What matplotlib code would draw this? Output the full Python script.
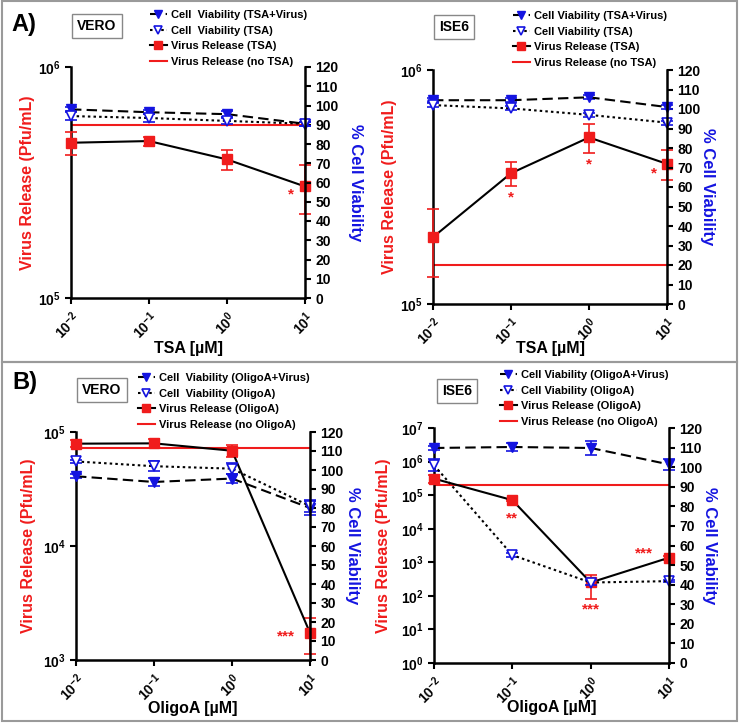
import matplotlib
matplotlib.use("Agg")
import matplotlib.pyplot as plt
from matplotlib.patches import Rectangle
from matplotlib.ticker import NullLocator

plt.rcParams["font.family"] = ["Liberation Sans", "DejaVu Sans"]
plt.rcParams["font.weight"] = "bold"
plt.rcParams["axes.labelweight"] = "bold"
plt.rcParams["mathtext.fontset"] = "custom"
plt.rcParams["mathtext.rm"] = "Liberation Sans:bold"
plt.rcParams["mathtext.it"] = "Liberation Sans:bold"
plt.rcParams["mathtext.bf"] = "Liberation Sans:bold"
plt.rcParams["mathtext.default"] = "bf"

RED = "#f01c1c"
BLUE = "#1414e0"

conc = [0.01, 0.1, 1, 10]
conc_labels = [r"$10^{-2}$", r"$10^{-1}$", r"$10^{0}$", r"$10^{1}$"]
viab_ticks = list(range(0, 121, 10))

# A) VERO, TSA
a_vero_vr = [4.7e5, 4.78e5, 3.98e5, 3.04e5]
a_vero_vr_err = [0.53e5, 0.22e5, 0.41e5, 0.74e5]
a_vero_ctrl = 5.6e5
a_vero_cv_vir = [98, 96.5, 95.5, 90.5]
a_vero_cv_vir_err = [1, 1, 1.5, 1]
a_vero_cv = [94.5, 93.5, 92, 90.5]
a_vero_cv_err = [2, 2, 1.5, 1]

# A) ISE6, TSA
a_ise_vr = [1.93e5, 3.62e5, 5.15e5, 3.97e5]
a_ise_vr_err = [0.62e5, 0.44e5, 0.75e5, 0.57e5]
a_ise_ctrl = 1.47e5
a_ise_cv_vir = [104.5, 104.5, 106, 101]
a_ise_cv_vir_err = [1, 1, 1, 1]
a_ise_cv = [102, 100.3, 97, 93]
a_ise_cv_err = [1, 1, 1, 1]

# B) VERO, OligoA
b_vero_vr = [7.9e4, 7.95e4, 6.85e4, 1.73e3]
b_vero_vr_err = [0.55e4, 0.75e4, 0.86e4, 0.6e3]
b_vero_ctrl = 7.2e4
b_vero_cv_vir = [96.7, 93.7, 95.5, 80]
b_vero_cv_vir_err = [1, 2, 2.5, 3.5]
b_vero_cv = [104.5, 102, 100.7, 81]
b_vero_cv_err = [1, 2.5, 3, 3]

# B) ISE6, OligoA
b_ise_vr = [3.1e5, 7.1e4, 2.5e2, 1.37e3]
b_ise_vr_err = [0.8e5, 0.5e4, 1.7e2, 0.2e3]
b_ise_ctrl = 2.0e5
b_ise_cv_vir = [109.8, 110.3, 109.8, 101.4]
b_ise_cv_vir_err = [1, 2, 3.4, 2.7]
b_ise_cv = [101, 55.1, 41.1, 41.8]
b_ise_cv_err = [3, 1, 1.5, 0.5]

W, H = 740, 724


def px(x, y):
    return x / W, 1 - y / H


def panel(fig, box, drug, vr, vr_err, ctrl, cv_vir, cv_vir_err, cv, cv_err,
          ylim, yticks, yticklabels, stars, leg_xy, lab_x, xlab_y, double_space):
    l, t, r, b = box
    ax = fig.add_axes([l / W, 1 - b / H, (r - l) / W, (b - t) / H])
    ax2 = ax.twinx()

    ax.set_xscale("log")
    ax.set_yscale("log")
    ax.set_xlim(conc[0], conc[-1])
    ax.set_ylim(*ylim)
    ax2.set_ylim(0, 120)

    ctrl_line = ax.axhline(ctrl, color=RED, lw=1.5, zorder=2)
    ax.errorbar(conc, vr, yerr=vr_err, fmt="none", ecolor=RED, elinewidth=1.2,
                capsize=4, capthick=1.2, clip_on=False, zorder=3)
    vr_line, = ax.plot(conc, vr, color="black", lw=1.5, marker="s", ms=7,
                       mfc=RED, mec=RED, clip_on=False, zorder=4)

    ax2.errorbar(conc, cv_vir, yerr=cv_vir_err, fmt="none", ecolor=BLUE,
                 elinewidth=1.2, capsize=4, capthick=1.2, clip_on=False)
    ax2.errorbar(conc, cv, yerr=cv_err, fmt="none", ecolor=BLUE,
                 elinewidth=1.2, capsize=4, capthick=1.2, clip_on=False)
    vir_line, = ax2.plot(conc, cv_vir, color="black", lw=1.5, ls=(0, (5, 2.5)),
                         marker="v", ms=6.5, mfc=BLUE, mec=BLUE, clip_on=False)
    cv_line, = ax2.plot(conc, cv, color="black", lw=1.5, ls=(0, (1.2, 1.5)),
                        marker="v", ms=6.5, mfc="white", mec=BLUE, mew=1.2,
                        clip_on=False)

    for sx, sy, s in stars:
        ax.text(sx, sy, s, color=RED, fontsize=11, ha="center", va="center")

    # axes styling
    for name in ["top", "right"]:
        ax.spines[name].set_visible(False)
    for name in ["top", "left", "bottom"]:
        ax2.spines[name].set_visible(False)
    ax.spines["left"].set_linewidth(1.8)
    ax.spines["bottom"].set_linewidth(1.8)
    ax2.spines["right"].set_linewidth(1.8)

    ax.set_xticks(conc)
    ax.set_xticklabels(conc_labels, rotation=45, ha="right", rotation_mode="anchor",
                       fontsize=10)
    ax.xaxis.set_minor_locator(NullLocator())
    ax.set_yticks(yticks)
    ax.set_yticklabels(yticklabels, fontsize=10)
    ax.yaxis.set_minor_locator(NullLocator())
    ax2.set_yticks(viab_ticks)
    ax.tick_params(direction="out", width=1.5, length=4)
    ax2.tick_params(direction="out", width=1.5, length=4, labelsize=10)

    ax.set_xlabel(f"{drug} [µM]", fontsize=11.5, va="center")
    ax.xaxis.set_label_coords(0.5, xlab_y)
    ax.set_ylabel("Virus Release (Pfu/mL)", color=RED, fontsize=11.5, va="center")
    ax.yaxis.set_label_coords(lab_x[0], 0.5)
    ax2.set_ylabel("% Cell Viability", color=BLUE, fontsize=12, rotation=270,
                   va="center")
    ax2.yaxis.set_label_coords(lab_x[1], 0.5)

    sp = "  " if double_space else " "
    labels = [f"Cell{sp}Viability ({drug}+Virus)", f"Cell{sp}Viability ({drug})",
              f"Virus Release ({drug})", f"Virus Release (no {drug})"]
    fig.legend([vir_line, cv_line, vr_line, ctrl_line], labels, loc="upper left",
               bbox_to_anchor=px(*leg_xy), frameon=False,
               prop=dict(size=8, weight="bold"),
               handlelength=1.5, handletextpad=0.35, labelspacing=0.5,
               borderpad=0, borderaxespad=0, numpoints=1, markerscale=0.85)
    return ax, ax2


fig = plt.figure(figsize=(W / 100, H / 100), dpi=100)

# panel frames
fig.add_artist(Rectangle(px(2, 362), 735 / W, 361 / H, transform=fig.transFigure,
                         fill=False, ec="#9a9a9a", lw=1.5))
fig.add_artist(Rectangle(px(2, 721), 735 / W, 359 / H, transform=fig.transFigure,
                         fill=False, ec="#9a9a9a", lw=1.5))

panel(fig, (71, 67, 305, 298), "TSA", a_vero_vr, a_vero_vr_err, a_vero_ctrl,
      a_vero_cv_vir, a_vero_cv_vir_err, a_vero_cv, a_vero_cv_err,
      (1e5, 1e6), [1e5, 1e6], [r"$10^{5}$", r"$10^{6}$"],
      [(6.6, 2.8e5, "*")], (150, 10), (-0.188, 1.215), -0.22, True)

panel(fig, (433, 70, 667, 304), "TSA", a_ise_vr, a_ise_vr_err, a_ise_ctrl,
      a_ise_cv_vir, a_ise_cv_vir_err, a_ise_cv, a_ise_cv_err,
      (1e5, 1e6), [1e5, 1e6], [r"$10^{5}$", r"$10^{6}$"],
      [(0.1, 2.85e5, "*"), (1, 3.95e5, "*"), (6.8, 3.6e5, "*")],
      (513, 11), (-0.188, 1.175), -0.192, False)

panel(fig, (76, 432, 310, 660), "OligoA", b_vero_vr, b_vero_vr_err, b_vero_ctrl,
      b_vero_cv_vir, b_vero_cv_vir_err, b_vero_cv, b_vero_cv_err,
      (1e3, 1e5), [1e3, 1e4, 1e5], [r"$10^{3}$", r"$10^{4}$", r"$10^{5}$"],
      [(4.9, 1.6e3, "***")], (138, 373), (-0.205, 1.18), -0.213, True)

panel(fig, (434, 428, 669, 663), "OligoA", b_ise_vr, b_ise_vr_err, b_ise_ctrl,
      b_ise_cv_vir, b_ise_cv_vir_err, b_ise_cv, b_ise_cv_err,
      (1e0, 1e7), [10.0 ** k for k in range(8)],
      [r"$10^{%d}$" % k for k in range(8)],
      [(0.1, 2.0e4, "**"), (1, 40, "***"), (4.8, 1.8e3, "***")],
      (500, 370), (-0.217, 1.174), -0.19, False)

# panel letters and cell-line boxes
fig.text(*px(24, 25), "A)", fontsize=17, ha="center", va="center")
fig.text(*px(25, 383), "B)", fontsize=17, ha="center", va="center")
box_style = dict(boxstyle="square,pad=0.35", fc="white", ec="#888888", lw=1)
fig.text(*px(97, 26), "VERO", fontsize=10, ha="center", va="center", bbox=box_style)
fig.text(*px(454, 27), "ISE6", fontsize=10, ha="center", va="center", bbox=box_style)
fig.text(*px(102, 390), "VERO", fontsize=10, ha="center", va="center", bbox=box_style)
fig.text(*px(457, 391), "ISE6", fontsize=10, ha="center", va="center", bbox=box_style)

fig.savefig("out.png", dpi=100)
